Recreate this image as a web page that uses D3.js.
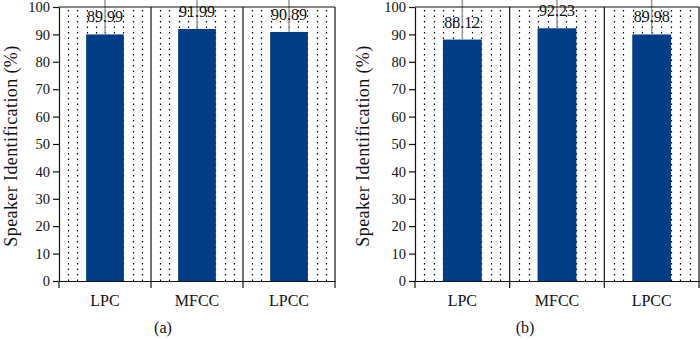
<!DOCTYPE html>
<html><head><meta charset="utf-8">
<script src="https://cdn.jsdelivr.net/npm/d3@7"></script>
<style>body{margin:0;background:#fff}svg{display:block}</style>
</head><body>
<svg id="c" width="700" height="340"></svg>
<script>
const categories = ["LPC", "MFCC", "LPCC"];
const valuesA = [89.99, 91.99, 90.89];
const valuesB = [88.12, 92.23, 89.98];
const errorsA = [15, 15, 15];
const errorsB = [15, 15, 15];
const yTicks = [0,10,20,30,40,50,60,70,80,90,100];
const panelLabels = ["(a)", "(b)"];
const yTitle = "Speaker Identification (%)";

const svg = d3.select("#c");
const FONT = "'Liberation Serif', 'Times New Roman', serif";
const TXT = "#111";
const plotTop = 7, plotBottom = 281;

const panels = [
  {vals: valuesA, errs: errorsA, left: 59, right: 335, labX: 163, titleX: 11, lab: panelLabels[0]},
  {vals: valuesB, errs: errorsB, left: 415, right: 699, labX: 525, titleX: 363, lab: panelLabels[1]}
];

panels.forEach(p => {
  const g = svg.append("g");
  const x = d3.scaleBand().domain(categories).range([p.left, p.right]).padding(0);
  const y = d3.scaleLinear().domain([0, 100]).range([plotBottom, plotTop]);
  const bw = x.bandwidth() * 0.41;

  // dotted vertical grid
  const step = (p.right - p.left) / 30;
  const gx = d3.range(1, 30).filter(i => i % 10 !== 0).map(i => p.left + i * step);
  g.selectAll(".grid").data(gx).join("line")
    .attr("x1", d => Math.round(d) + 0.5).attr("x2", d => Math.round(d) + 0.5)
    .attr("y1", plotTop + 3).attr("y2", plotBottom)
    .attr("stroke", "#000").attr("stroke-width", 1.2).attr("stroke-dasharray", "1.5,4");

  // bars
  g.selectAll(".bar").data(categories).join("rect")
    .attr("x", (d) => x(d) + (x.bandwidth() - bw) / 2)
    .attr("y", (d, i) => y(p.vals[i]))
    .attr("width", bw)
    .attr("height", (d, i) => y(0) - y(p.vals[i]))
    .attr("fill", "#033d86");

  // error bars
  g.selectAll(".err").data(categories).join("line")
    .attr("x1", d => x(d) + x.bandwidth() / 2).attr("x2", d => x(d) + x.bandwidth() / 2)
    .attr("y1", (d, i) => y(p.vals[i]))
    .attr("y2", (d, i) => y(p.vals[i] + p.errs[i]))
    .attr("stroke", "#9a9a9a").attr("stroke-width", 1.5);

  // frame: top border, dividers, right border
  g.append("line").attr("x1", p.left).attr("x2", p.right).attr("y1", plotTop).attr("y2", plotTop)
    .attr("stroke", "#111").attr("stroke-width", 1.2);
  const divs = categories.slice(1).map(d => x(d)).concat([p.right]);
  g.selectAll(".div").data(divs).join("line")
    .attr("x1", d => d).attr("x2", d => d).attr("y1", plotTop).attr("y2", plotBottom + 7)
    .attr("stroke", "#111").attr("stroke-width", 1.2);

  // y axis
  const ya = g.append("g").attr("transform", `translate(${p.left},0)`)
    .call(d3.axisLeft(y).tickValues(yTicks).tickSize(6).tickPadding(3).tickSizeOuter(0));
  ya.select(".domain").attr("stroke", "#111").attr("stroke-width", 1.2);
  ya.selectAll(".tick line").attr("stroke", "#111").attr("stroke-width", 1.2);
  ya.selectAll("text").attr("font-family", FONT).attr("font-size", 14.5).attr("fill", TXT);

  // x axis
  const xa = g.append("g").attr("transform", `translate(0,${plotBottom})`)
    .call(d3.axisBottom(x).tickSize(0).tickPadding(14).tickSizeOuter(0));
  xa.select(".domain").attr("stroke", "#111").attr("stroke-width", 1.2);
  xa.selectAll("text").attr("font-family", FONT).attr("font-size", 16).attr("fill", TXT);
  g.append("line").attr("x1", p.left).attr("x2", p.left).attr("y1", plotBottom).attr("y2", plotBottom + 7)
    .attr("stroke", "#111").attr("stroke-width", 1.2);

  // value labels
  g.selectAll(".vl").data(categories).join("text")
    .attr("x", d => x(d) + x.bandwidth() / 2)
    .attr("y", (d, i) => y(p.vals[i]) - 12)
    .attr("text-anchor", "middle")
    .attr("font-family", FONT).attr("font-size", 16).attr("fill", TXT)
    .text((d, i) => p.vals[i].toFixed(2));

  // y title
  g.append("text")
    .attr("transform", `translate(${p.titleX},${(plotTop + plotBottom) / 2 + 2}) rotate(-90)`)
    .attr("text-anchor", "middle").attr("dominant-baseline", "central")
    .attr("font-family", FONT).attr("font-size", 18).attr("letter-spacing", 0.4).attr("fill", TXT)
    .text(yTitle);

  // panel label
  g.append("text").attr("x", p.labX).attr("y", 333)
    .attr("text-anchor", "middle")
    .attr("font-family", FONT).attr("font-size", 16).attr("fill", TXT)
    .text(p.lab);
});
</script>
</body></html>
